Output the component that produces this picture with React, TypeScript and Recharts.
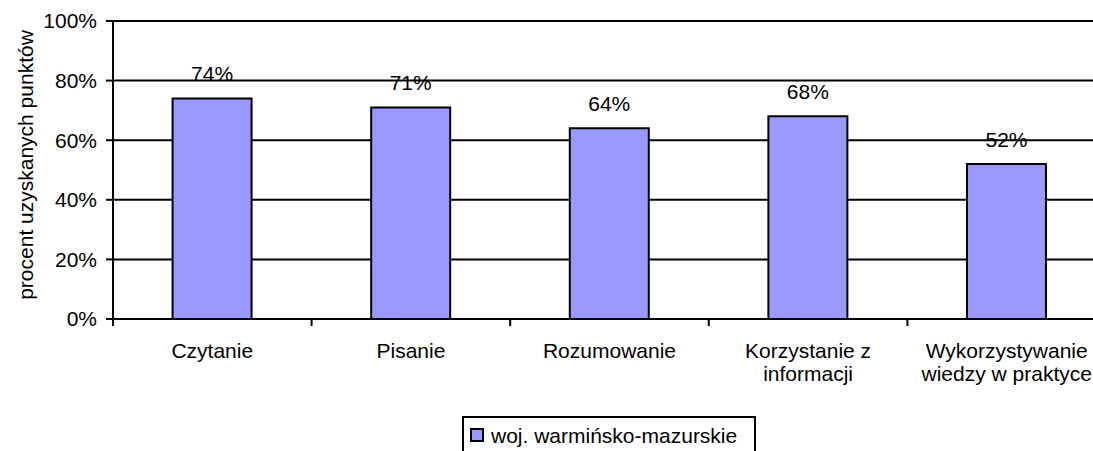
import React from 'react';
import {
  BarChart,
  Bar,
  XAxis,
  YAxis,
  CartesianGrid,
  LabelList,
  Legend,
} from 'recharts';

const categories = [
  'Czytanie',
  'Pisanie',
  'Rozumowanie',
  'Korzystanie z informacji',
  'Wykorzystywanie wiedzy w praktyce',
];
const categoryLines = [
  ['Czytanie'],
  ['Pisanie'],
  ['Rozumowanie'],
  ['Korzystanie z', 'informacji'],
  ['Wykorzystywanie', 'wiedzy w praktyce'],
];
const values = [74, 71, 64, 68, 52];
const yTicks = [0, 20, 40, 60, 80, 100];
const seriesName = 'woj. warmińsko-mazurskie';
const yTitle = 'procent uzyskanych punktów';

const data = categories.map((c, i) => ({ name: c, value: values[i], idx: i }));

const FONT = '"Liberation Sans", Arial, sans-serif';
const FS = 21;
const CHART_W = 1120;
const CHART_H = 451;
const MARGIN = { top: 21, right: 14, bottom: 0, left: 0 };
const Y_AXIS_W = 113;
const X_AXIS_H = 132;
const TICK = 7;
const PLOT_W = CHART_W - MARGIN.left - MARGIN.right - Y_AXIS_W;
const STEP = PLOT_W / categories.length;

const XTick = (props: any) => {
  const { x, y, payload, index } = props;
  const axisY = y - TICK;
  const i = typeof payload?.index === 'number' ? payload.index : index;
  const lines = categoryLines[i] || [String(payload.value)];
  const bx = x - STEP / 2;
  return (
    <g>
      <line x1={bx} y1={axisY} x2={bx} y2={axisY + TICK} stroke="#000" strokeWidth={2} />
      <text x={x} y={axisY + 38.5} textAnchor="middle" fontFamily={FONT} fontSize={FS} fill="#000">
        {lines.map((l, k) => (
          <tspan key={k} x={x} dy={k === 0 ? 0 : 23}>
            {l}
          </tspan>
        ))}
      </text>
    </g>
  );
};

const YTitle = (props: any) => {
  const vb = props.viewBox || { x: 0, y: 0, width: 0, height: 0 };
  const cx = vb.x + 25;
  const cy = vb.y + vb.height / 2 - 5;
  return (
    <text
      x={cx}
      y={cy}
      transform={`rotate(-90, ${cx}, ${cy})`}
      textAnchor="middle"
      dominantBaseline="central"
      fontFamily={FONT}
      fontSize={FS}
      fill="#000"
    >
      {yTitle}
    </text>
  );
};

const LegendBox = () => (
  <div
    style={{
      boxSizing: 'border-box',
      width: 294,
      height: 40,
      border: '2px solid #000',
      background: '#fff',
      display: 'flex',
      alignItems: 'center',
      fontFamily: FONT,
      fontSize: FS,
      color: '#000',
      paddingLeft: 6,
    }}
  >
    <span
      style={{
        display: 'inline-block',
        boxSizing: 'border-box',
        width: 14,
        height: 14,
        background: '#9999FF',
        border: '2px solid #000',
        marginRight: 7,
        marginTop: -2,
        flex: '0 0 auto',
      }}
    />
    <span style={{ whiteSpace: 'nowrap' }}>{seriesName}</span>
  </div>
);

export default function App() {
  return (
    <div
      style={{
        position: 'absolute',
        left: 0,
        top: 0,
        width: 1093,
        height: 451,
        overflow: 'hidden',
        background: '#fff',
      }}
    >
      <BarChart
        width={CHART_W}
        height={CHART_H}
        data={data}
        margin={MARGIN}
        barCategoryGap="30%"
      >
        <CartesianGrid horizontal vertical={false} stroke="#000" strokeWidth={2} />
        <XAxis
          dataKey="name"
          height={X_AXIS_H}
          axisLine={{ stroke: '#000', strokeWidth: 2 }}
          tickLine={false}
          tickSize={TICK}
          tickMargin={0}
          interval={0}
          tick={<XTick />}
        />
        <YAxis
          width={Y_AXIS_W}
          domain={[0, 100]}
          ticks={yTicks}
          interval={0}
          tickFormatter={(v: number) => `${v}%`}
          axisLine={{ stroke: '#000', strokeWidth: 2 }}
          tickLine={{ stroke: '#000', strokeWidth: 2 }}
          tickSize={TICK}
          tickMargin={9}
          tick={{ fill: '#000', fontSize: FS, fontFamily: FONT }}
          label={<YTitle />}
        />
        <Legend
          layout="horizontal"
          verticalAlign="middle"
          align="center"
          content={<LegendBox />}
          wrapperStyle={{ left: 462, top: 416, width: 294, height: 40 }}
        />
        <Bar
          dataKey="value"
          name={seriesName}
          fill="#9999FF"
          stroke="#000"
          strokeWidth={2}
          isAnimationActive={false}
        >
          <LabelList
            dataKey="value"
            position="top"
            offset={17}
            formatter={(v: any) => `${v}%`}
            fill="#000"
            fontSize={FS}
            fontFamily={FONT}
          />
        </Bar>
      </BarChart>
    </div>
  );
}
